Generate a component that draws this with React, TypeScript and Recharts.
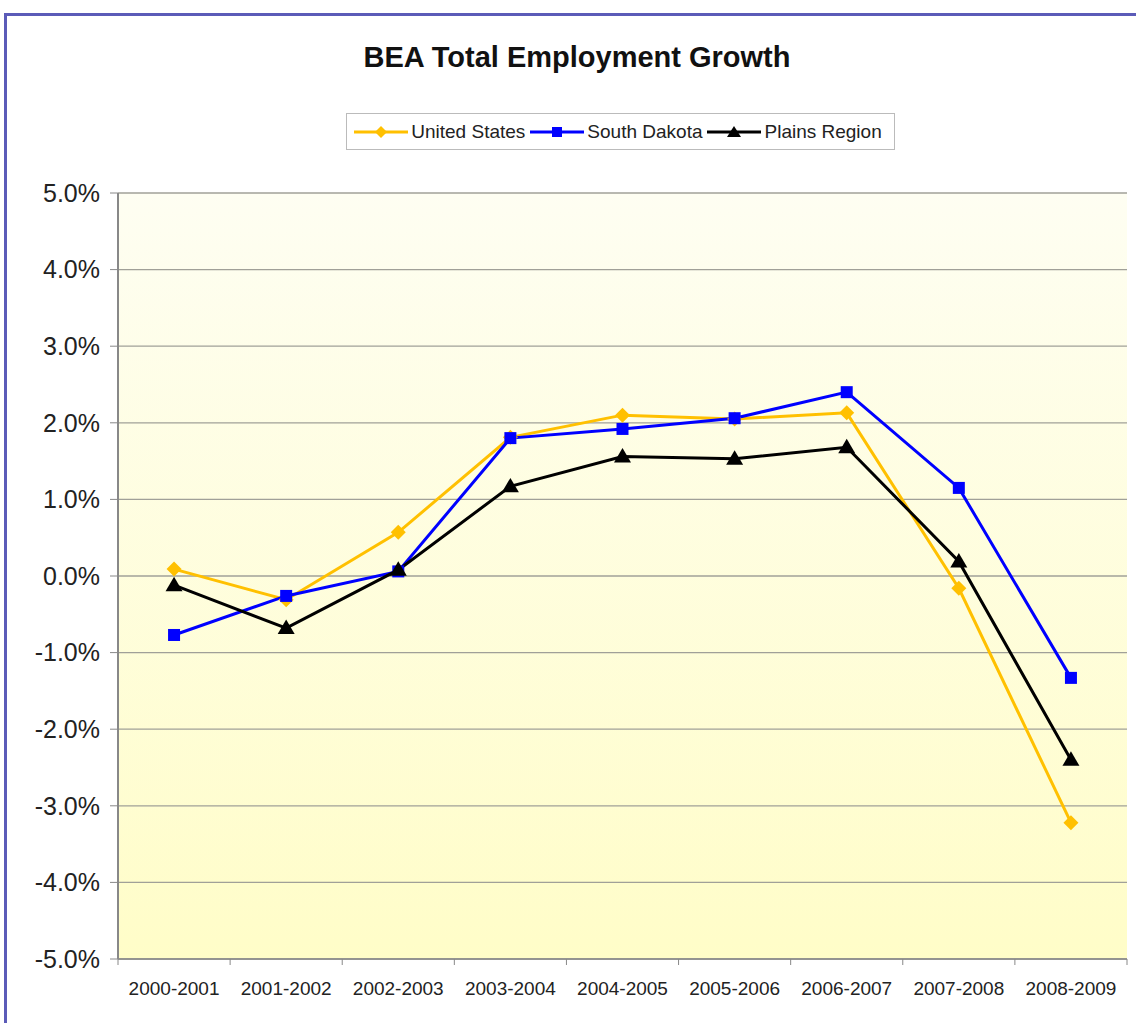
import React from 'react';
import { LineChart, Line, XAxis, YAxis, CartesianGrid } from 'recharts';

const categories = ['2000-2001', '2001-2002', '2002-2003', '2003-2004', '2004-2005', '2005-2006', '2006-2007', '2007-2008', '2008-2009'];
const unitedStates = [0.09, -0.31, 0.57, 1.81, 2.1, 2.05, 2.13, -0.16, -3.22];
const southDakota = [-0.77, -0.26, 0.06, 1.8, 1.92, 2.06, 2.4, 1.15, -1.33];
const plainsRegion = [-0.12, -0.68, 0.08, 1.17, 1.56, 1.53, 1.68, 0.19, -2.4];
const yTicks = [-5, -4, -3, -2, -1, 0, 1, 2, 3, 4, 5];

const data = categories.map((c, i) => ({
  name: c,
  us: unitedStates[i],
  sd: southDakota[i],
  pr: plainsRegion[i],
}));

const W = 1136;
const H = 1023;
const PLOT_LEFT = 118;
const PLOT_RIGHT = 1127;
const STEP = (PLOT_RIGHT - PLOT_LEFT) / categories.length;
const FONT = 'Arial, "Liberation Sans", sans-serif';

const Diamond = (props: any) => {
  const { cx, cy } = props;
  if (cx == null || cy == null) return null;
  const r = 7.5;
  return <path d={`M${cx},${cy - r}L${cx + r},${cy}L${cx},${cy + r}L${cx - r},${cy}Z`} fill="#FFC000" />;
};
const Square = (props: any) => {
  const { cx, cy } = props;
  if (cx == null || cy == null) return null;
  const r = 6;
  return <rect x={cx - r} y={cy - r} width={2 * r} height={2 * r} fill="#0000FF" />;
};
const Triangle = (props: any) => {
  const { cx, cy } = props;
  if (cx == null || cy == null) return null;
  const r = 8.5;
  return <path d={`M${cx},${cy - r}L${cx + r},${cy + r * 0.7}L${cx - r},${cy + r * 0.7}Z`} fill="#000000" />;
};

const XTick = (props: any) => {
  const { x, y, payload, index } = props;
  const axisY = y - 8;
  return (
    <g>
      <line x1={x - STEP / 2} x2={x - STEP / 2} y1={axisY} y2={axisY + 6} stroke="#888" strokeWidth={1} />
      {index === categories.length - 1 && (
        <line x1={x + STEP / 2} x2={x + STEP / 2} y1={axisY} y2={axisY + 6} stroke="#888" strokeWidth={1} />
      )}
      <text x={x} y={axisY + 36} textAnchor="middle" fontSize={19} fontFamily={FONT} fill="#222">
        {payload.value}
      </text>
    </g>
  );
};

const LegendItem = ({ color, marker, label }: { color: string; marker: string; label: string }) => (
  <span style={{ display: 'inline-flex', alignItems: 'center', marginRight: 5 }}>
    <svg width={54} height={14} style={{ marginRight: 3 }}>
      <line x1={0} x2={54} y1={7} y2={7} stroke={color} strokeWidth={3} />
      {marker === 'diamond' && <path d="M27,1L33,7L27,13L21,7Z" fill={color} />}
      {marker === 'square' && <rect x={22} y={2} width={10} height={10} fill={color} />}
      {marker === 'triangle' && <path d="M27,1L34,12L20,12Z" fill={color} />}
    </svg>
    <span>{label}</span>
  </span>
);

export default function App() {
  return (
    <div style={{ position: 'absolute', left: 0, top: 0, width: W, height: H, background: '#fff', overflow: 'hidden', fontFamily: FONT }}>
      <div style={{ position: 'absolute', left: 4, top: 13, width: W + 20, height: H + 20, border: '3px solid #5B5BB8', boxSizing: 'border-box' }} />
      <div style={{ position: 'absolute', left: 0, top: 41, width: 1154, textAlign: 'center', fontSize: 29, fontWeight: 'bold', color: '#111' }}>
        BEA Total Employment Growth
      </div>
      <div
        style={{
          position: 'absolute', left: 346, top: 113, width: 549, height: 37, boxSizing: 'border-box',
          border: '1px solid #BBB', background: '#fff', display: 'flex', alignItems: 'center', justifyContent: 'center',
          fontSize: 19, color: '#222', whiteSpace: 'nowrap',
        }}
      >
        <LegendItem color="#FFC000" marker="diamond" label="United States" />
        <LegendItem color="#0000FF" marker="square" label="South Dakota" />
        <LegendItem color="#000000" marker="triangle" label="Plains Region" />
      </div>
      <div style={{ position: 'absolute', left: 0, top: 0 }}>
        <LineChart width={W} height={H} data={data} margin={{ top: 193, right: W - PLOT_RIGHT, bottom: 0, left: 0 }}>
          <defs>
            <linearGradient id="plotBg" x1="0" y1="0" x2="0" y2="1">
              <stop offset="0%" stopColor="#FEFEF2" />
              <stop offset="100%" stopColor="#FFFDC8" />
            </linearGradient>
          </defs>
          <CartesianGrid vertical={false} stroke="#A0A098" strokeWidth={1.3} fill="url(#plotBg)" fillOpacity={1} />
          <XAxis
            dataKey="name"
            height={64}
            padding={{ left: STEP / 2, right: STEP / 2 }}
            axisLine={{ stroke: '#888', strokeWidth: 1.5 }}
            tickLine={false}
            tick={<XTick />}
            interval={0}
          />
          <YAxis
            width={PLOT_LEFT}
            domain={[-5, 5]}
            ticks={yTicks}
            interval={0}
            tickFormatter={(v: number) => `${v.toFixed(1)}%`}
            axisLine={{ stroke: '#888', strokeWidth: 2 }}
            tickLine={{ stroke: '#888' }}
            tickSize={8}
            tickMargin={10}
            tick={{ fontSize: 25, fontFamily: FONT, fill: '#222' }}
          />
          <YAxis yAxisId="right" orientation="right" width={0} domain={[-5, 5]} tick={false} axisLine={{ stroke: '#BBB', strokeWidth: 3 }} tickLine={false} />
          <Line dataKey="us" stroke="#FFC000" strokeWidth={3} dot={<Diamond />} activeDot={false} isAnimationActive={false} />
          <Line dataKey="sd" stroke="#0000FF" strokeWidth={3} dot={<Square />} activeDot={false} isAnimationActive={false} />
          <Line dataKey="pr" stroke="#000000" strokeWidth={3} dot={<Triangle />} activeDot={false} isAnimationActive={false} />
        </LineChart>
      </div>
    </div>
  );
}
